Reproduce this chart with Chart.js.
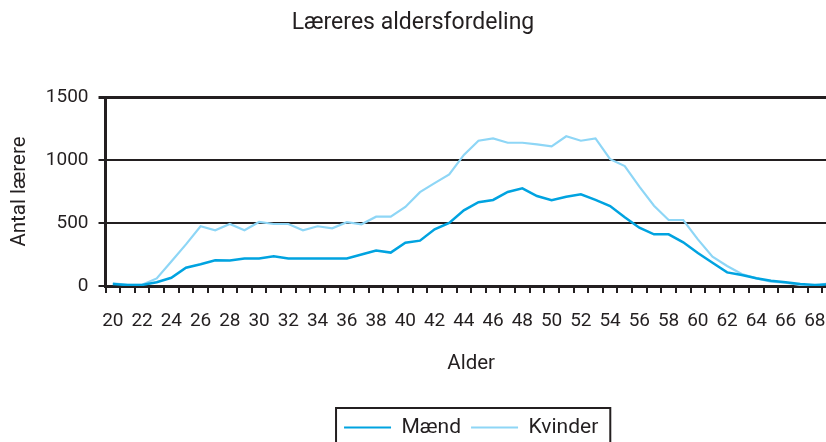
<!DOCTYPE html>
<html>
<head>
<meta charset="utf-8">
<title>Læreres aldersfordeling</title>
<script src="https://cdn.jsdelivr.net/npm/chart.js@4/dist/chart.umd.min.js"></script>
<style>
  html, body { margin: 0; padding: 0; background: #fff; overflow: hidden; }
  #wrap { width: 826px; height: 442px; overflow: hidden; }
</style>
</head>
<body>
<!-- canvas is a bit bigger than the page, the original is cropped on the right and bottom -->
<div id="wrap"><canvas id="ageChart" width="846" height="448"></canvas></div>
<script>
// ages 20-69, the last one runs off the right edge like in the original
const ages = ["20","21","22","23","24","25","26","27","28","29",
              "30","31","32","33","34","35","36","37","38","39",
              "40","41","42","43","44","45","46","47","48","49",
              "50","51","52","53","54","55","56","57","58","59",
              "60","61","62","63","64","65","66","67","68","69"];
const maend = [15, 8, 8, 30, 65, 145, 173, 205, 202, 218,
               218, 236, 218, 218, 218, 218, 218, 250, 282, 265,
               344, 360, 450, 500, 600, 665, 683, 746, 775, 714,
               680, 709, 728, 683, 635, 545, 463, 410, 410, 347,
               262, 185, 108, 87, 61, 42, 29, 16, 8, 14];
const kvinder = [22, 10, 10, 60, 195, 330, 474, 442, 492, 442,
                 508, 492, 492, 442, 474, 458, 506, 490, 550, 550,
                 627, 745, 816, 886, 1040, 1153, 1172, 1137, 1137, 1124,
                 1108, 1188, 1153, 1172, 1006, 952, 788, 637, 524, 524,
                 370, 233, 159, 95, 61, 34, 26, 8, 0, 24];
const yMax = 1500;
const yStep = 500;

const ink = "#231f20";
const font = "Roboto, 'Liberation Sans', sans-serif";

// Chart.js has no frame around the legend, so draw one
const legendFrame = {
    id: "legendFrame",
    afterDraw(chart) {
        const boxes = chart.legend && chart.legend.legendHitBoxes;
        if (!boxes || !boxes.length) return;
        const first = boxes[0];
        const last = boxes[boxes.length - 1];
        const left = first.left - 8;
        const ctx = chart.ctx;
        ctx.save();
        ctx.strokeStyle = ink;
        ctx.lineWidth = 2;
        ctx.strokeRect(left, chart.legend.top + 1, last.left + last.width + 12 - left, 60);
        ctx.restore();
    }
};

const ctx = document.getElementById("ageChart").getContext("2d");
new Chart(ctx, {
    type: "line",
    data: {
        labels: ages,
        datasets: [{
            label: "Mænd",
            data: maend,
            borderColor: "#00a3e0",
            backgroundColor: "#00a3e0",
            borderWidth: 2.5,
            pointRadius: 0,
            tension: 0
        }, {
            label: "Kvinder",
            data: kvinder,
            borderColor: "#8ed6f6",
            backgroundColor: "#8ed6f6",
            borderWidth: 2.2,
            pointRadius: 0,
            tension: 0
        }]
    },
    options: {
        responsive: false,
        animation: false,
        devicePixelRatio: 1,
        // left -20 so the title box spans the visible 826px and stays centred there
        layout: { padding: { left: -20, right: 0, top: 0, bottom: 0 } },
        scales: {
            x: {
                type: "category",
                offset: true,
                border: { display: true, color: ink, width: 3 },
                grid: {
                    offset: true,
                    drawOnChartArea: false,
                    drawTicks: true,
                    tickLength: 7,
                    color: ink,
                    lineWidth: 2
                },
                ticks: {
                    autoSkip: false,
                    maxRotation: 0,
                    padding: 16.5,
                    color: ink,
                    font: { family: font, size: 19 },
                    callback: function (v) {
                        return Number(ages[v]) % 2 === 0 ? ages[v] : "";
                    }
                },
                title: {
                    display: true,
                    text: "Alder",
                    color: ink,
                    font: { family: font, size: 20.5 },
                    padding: { top: 2.6, bottom: 31 }
                }
            },
            y: {
                min: 0,
                max: yMax,
                border: { display: true, color: ink, width: 3 },
                grid: {
                    color: ink,
                    lineWidth: c => (c.tick && c.tick.value === yMax ? 3 : 2),
                    tickLength: 7,
                    drawTicks: true
                },
                ticks: {
                    stepSize: yStep,
                    padding: 10,
                    color: ink,
                    font: { family: font, size: 19 },
                    callback: v => String(v)
                },
                title: {
                    display: true,
                    text: "Antal lærere",
                    color: ink,
                    font: { family: font, size: 20.5 },
                    padding: { top: 27.7, bottom: 3.5 }
                }
            }
        },
        plugins: {
            title: {
                display: true,
                text: "Læreres aldersfordeling",
                color: ink,
                font: { family: font, size: 23, weight: "normal" },
                padding: { top: 9, bottom: 60.4 }
            },
            legend: {
                position: "bottom",
                fullSize: false,
                labels: {
                    boxWidth: 47,
                    boxHeight: 2,
                    padding: 10,
                    color: ink,
                    font: { family: font, size: 21 },
                    generateLabels: chart =>
                        Chart.defaults.plugins.legend.labels.generateLabels(chart)
                            .map(item => Object.assign(item, { lineWidth: 0 }))
                }
            },
            tooltip: { enabled: false }
        }
    },
    plugins: [legendFrame]
});
</script>
</body>
</html>
